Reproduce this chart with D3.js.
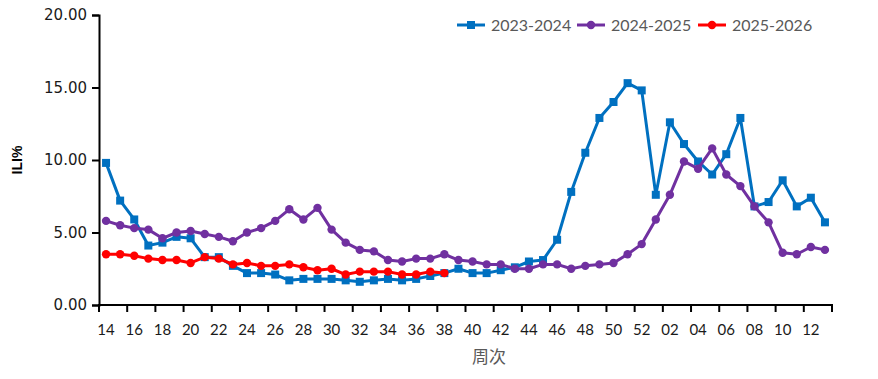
<!DOCTYPE html>
<html><head><meta charset="utf-8">
<script src="https://cdn.jsdelivr.net/npm/d3@7"></script>
<style>html,body{margin:0;padding:0;background:#fff;}svg{display:block;}</style>
</head><body>
<svg id="chart" width="878" height="379"></svg>
<script>
const weeks = ["14","15","16","17","18","19","20","21","22","23","24","25","26","27","28","29","30","31","32","33","34","35","36","37","38","39","40","41","42","43","44","45","46","47","48","49","50","51","52","01","02","03","04","05","06","07","08","09","10","11","12","13"];
const s2023 = [9.8,7.2,5.9,4.1,4.3,4.7,4.6,3.3,3.3,2.7,2.2,2.2,2.1,1.7,1.8,1.8,1.8,1.7,1.6,1.7,1.8,1.7,1.8,2.0,2.2,2.5,2.2,2.2,2.4,2.6,3.0,3.1,4.5,7.8,10.5,12.9,14.0,15.3,14.8,7.6,12.6,11.1,9.9,9.0,10.4,12.9,6.8,7.1,8.6,6.8,7.4,5.7];
const s2024 = [5.8,5.5,5.3,5.2,4.6,5.0,5.1,4.9,4.7,4.4,5.0,5.3,5.8,6.6,5.9,6.7,5.2,4.3,3.8,3.7,3.1,3.0,3.2,3.2,3.5,3.1,3.0,2.8,2.8,2.5,2.5,2.8,2.8,2.5,2.7,2.8,2.9,3.5,4.2,5.9,7.6,9.9,9.4,10.8,9.0,8.2,6.8,5.7,3.6,3.5,4.0,3.8];
const s2025 = [3.5,3.5,3.4,3.2,3.1,3.1,2.9,3.3,3.2,2.8,2.9,2.7,2.7,2.8,2.6,2.4,2.5,2.1,2.3,2.3,2.3,2.1,2.1,2.3,2.2];
const seriesNames = ["2023-2024","2024-2025","2025-2026"];
const seriesColors = ["#0070C0","#7030A0","#FF0000"];
const seriesMarkers = ["square","circle","circle"];
const yTicks = [0,5,10,15,20];
const xLabelWeeks = weeks.filter((w,i)=>i%2===0);

const svg = d3.select("#chart");
const L = 99, R = 832, T = 15, B = 305;
const x = d3.scaleBand().domain(weeks).range([L,R]).padding(0);
const y = d3.scaleLinear().domain([0,20]).range([B,T]);

// Y axis
const yAxis = d3.axisLeft(y).tickValues(yTicks).tickFormat(d3.format(".2f")).tickSizeOuter(0).tickSize(7).tickPadding(5);
const gy = svg.append("g").attr("transform",`translate(${L},0)`).call(yAxis);
gy.select(".domain").attr("stroke","#000").attr("stroke-width",2);
gy.selectAll(".tick line").attr("stroke","#000").attr("stroke-width",2);
gy.selectAll(".tick text").attr("font-family","DejaVu Sans").attr("font-size","15px").attr("fill","#1a1a1a");

// X axis: ticks at boundaries every 2 categories
const boundaries = d3.range(0, weeks.length+1, 2).map(i => L + i*x.bandwidth());
const gx = svg.append("g");
gx.append("line").attr("x1",L-1).attr("x2",R+1).attr("y1",B).attr("y2",B).attr("stroke","#000").attr("stroke-width",2);
gx.selectAll("line.tk").data(boundaries).join("line").attr("class","tk")
  .attr("x1",d=>d).attr("x2",d=>d).attr("y1",B).attr("y2",B+7).attr("stroke","#000").attr("stroke-width",2);
gx.selectAll("text").data(xLabelWeeks).join("text")
  .attr("x",d=>x(d)+x.bandwidth()/2).attr("y",B+30)
  .attr("text-anchor","middle").attr("font-family","Lato").attr("font-size","15px").attr("fill","#1a1a1a").text(d=>d);

// Axis titles
svg.append("text").attr("transform",`translate(22,160) rotate(-90)`).attr("text-anchor","middle")
  .attr("font-family","Liberation Sans").attr("font-weight","bold").attr("font-size","14px").attr("fill","#000").text("ILI%");
svg.append("text").attr("x",489).attr("y",363).attr("text-anchor","middle")
  .attr("font-family","Noto Sans CJK SC").attr("font-size","17px").attr("fill","#595959").text("周次");

// Series
const data = [s2023, s2024, s2025];
const line = d3.line().x((d,i)=>x(weeks[i])+x.bandwidth()/2).y(d=>y(d));
data.forEach((vals,k)=>{
  const g = svg.append("g");
  g.append("path").attr("d",line(vals)).attr("fill","none").attr("stroke",seriesColors[k]).attr("stroke-width",3).attr("stroke-linejoin","round");
  if (seriesMarkers[k]==="square") {
    g.selectAll("rect").data(vals).join("rect")
      .attr("x",(d,i)=>x(weeks[i])+x.bandwidth()/2-4).attr("y",d=>y(d)-4)
      .attr("width",8).attr("height",8).attr("fill",seriesColors[k]);
  } else {
    g.selectAll("circle").data(vals).join("circle")
      .attr("cx",(d,i)=>x(weeks[i])+x.bandwidth()/2).attr("cy",d=>y(d)).attr("r",4.2).attr("fill",seriesColors[k]);
  }
});

// Legend
const legX = [457, 577, 698];
seriesNames.forEach((n,k)=>{
  const g = svg.append("g").attr("transform",`translate(${legX[k]},25)`);
  g.append("line").attr("x1",0).attr("x2",28).attr("y1",0).attr("y2",0).attr("stroke",seriesColors[k]).attr("stroke-width",3);
  if (seriesMarkers[k]==="square") g.append("rect").attr("x",10).attr("y",-4).attr("width",8).attr("height",8).attr("fill",seriesColors[k]);
  else g.append("circle").attr("cx",14).attr("cy",0).attr("r",4.2).attr("fill",seriesColors[k]);
  g.append("text").attr("x",34).attr("y",6).attr("font-family","Lato").attr("font-size","16px").attr("fill","#595959").text(n);
});
</script>
</body></html>
